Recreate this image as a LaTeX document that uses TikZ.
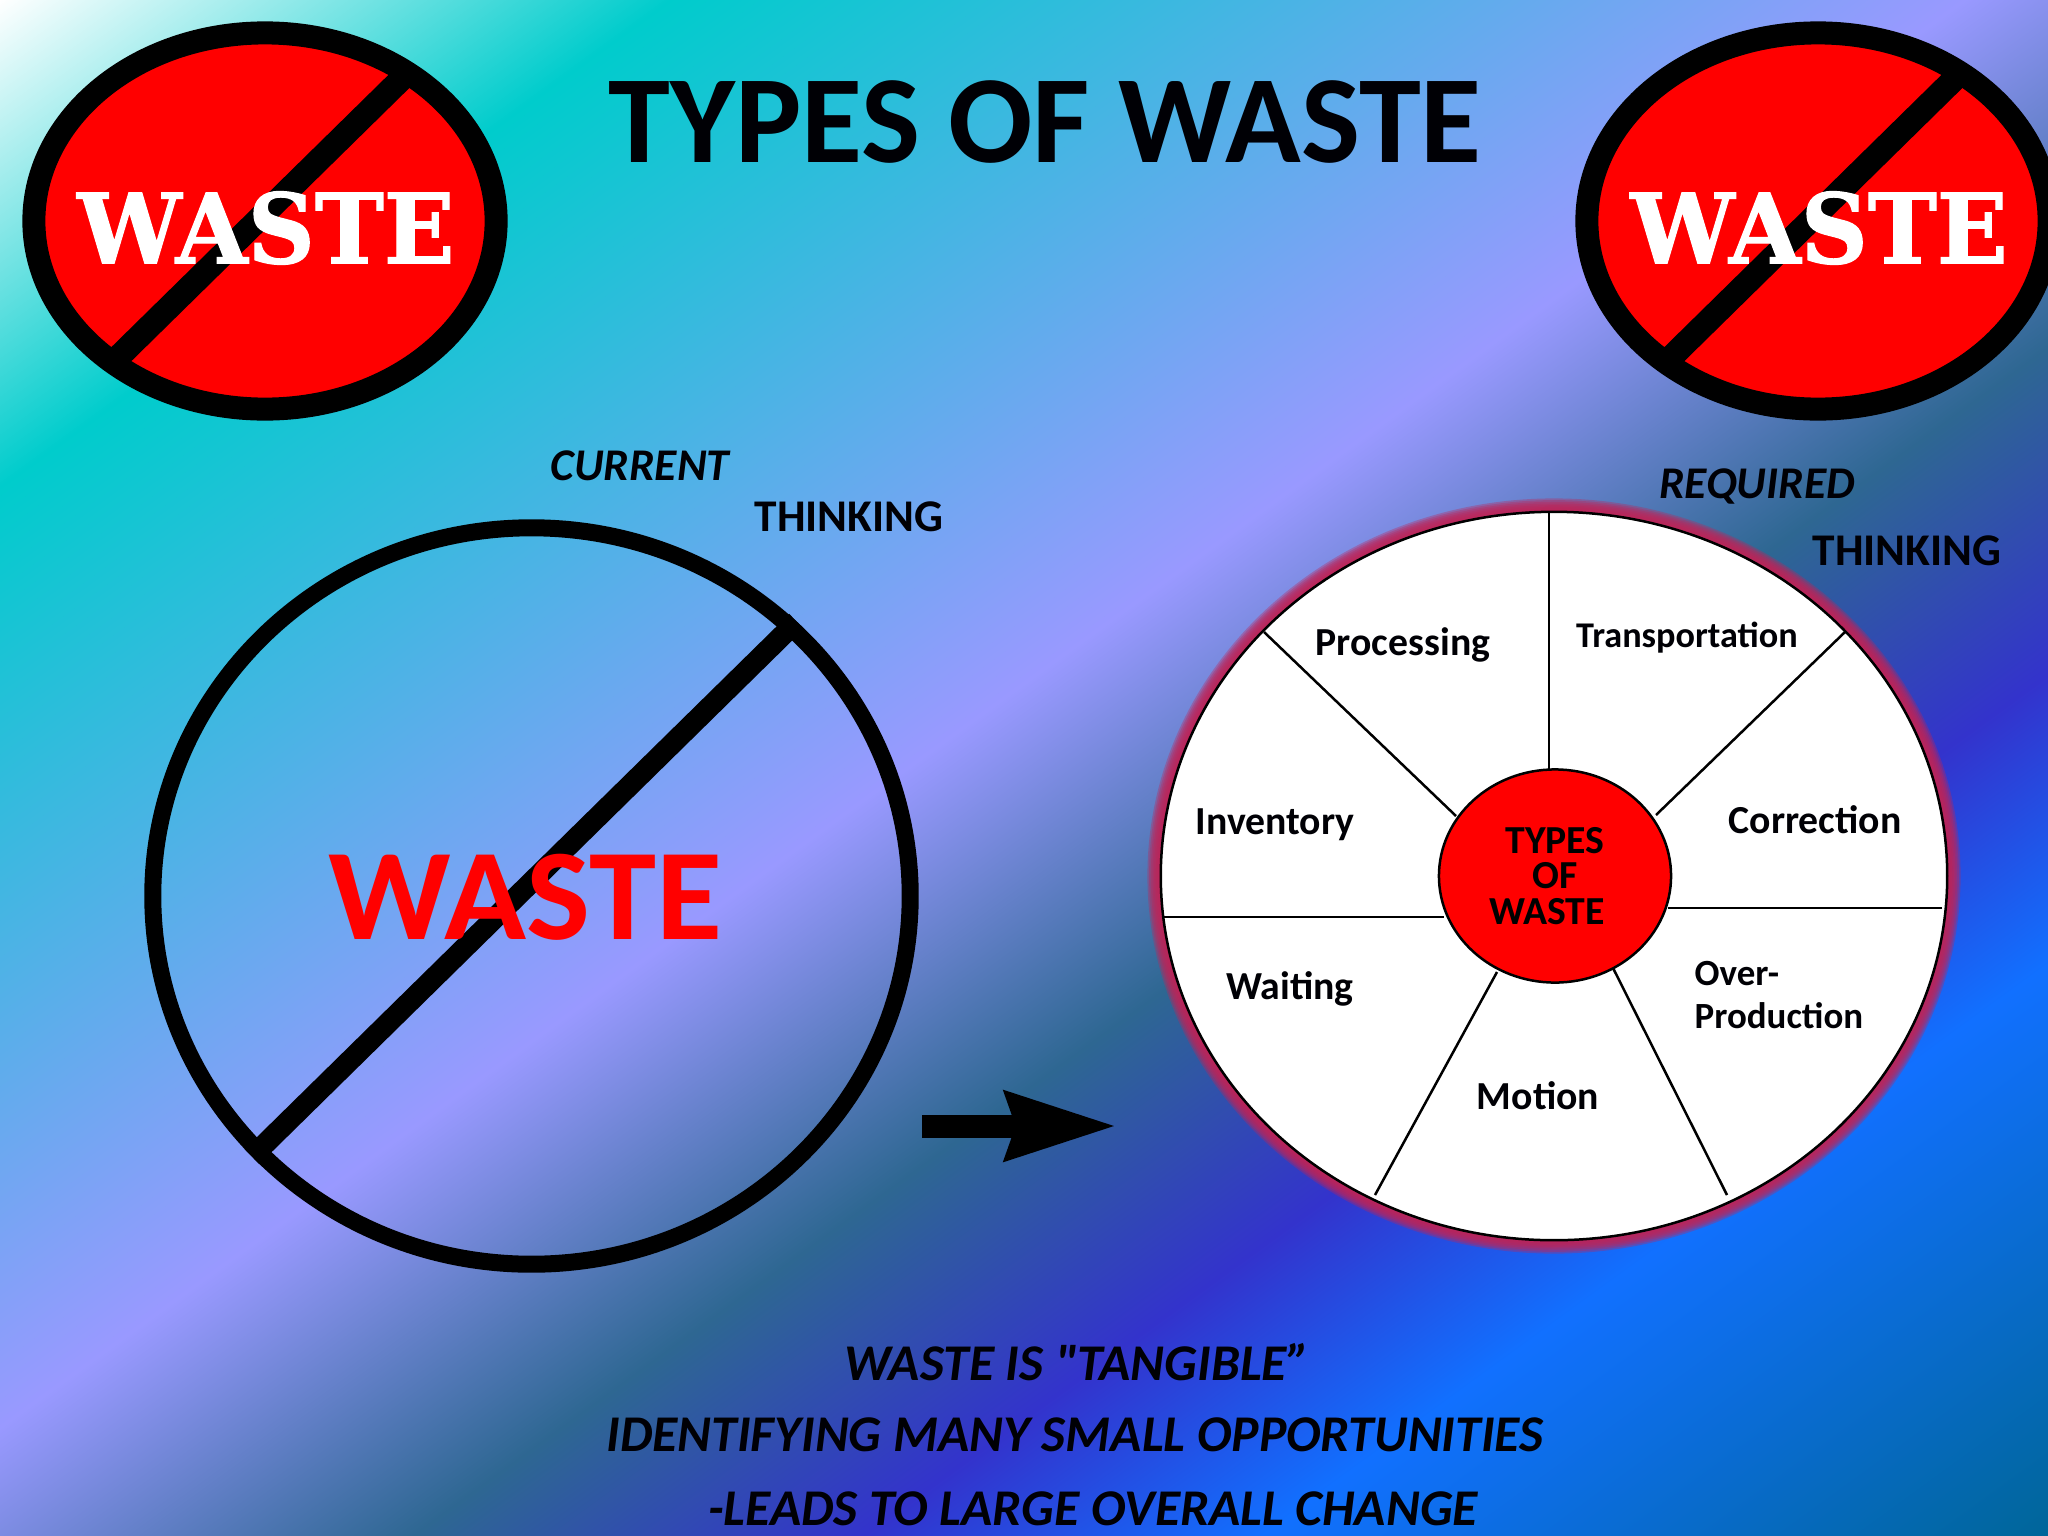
\documentclass[tikz,border=0pt]{standalone}
\usepackage{fontspec}
\usepackage{xcolor}
\usepackage{tikz}
\usetikzlibrary{shapes.geometric,arrows.meta}
\setmainfont{Carlito}
\newfontfamily\slabfont[BoldFeatures={FakeBold=1.2}]{DejaVu Serif}

\definecolor{peacockA}{HTML}{00CCCC}
\definecolor{peacockB}{HTML}{9999FF}
\definecolor{peacockC}{HTML}{2E6792}
\definecolor{peacockD}{HTML}{3333CC}
\definecolor{peacockE}{HTML}{1170FF}
\definecolor{peacockF}{HTML}{006699}
\definecolor{glow}{HTML}{BE2458}
\definecolor{ink}{HTML}{000005}
\pgfdeclarehorizontalshading{peacock}{100bp}{color(0bp)=(white);
    color(25bp)=(white); color(33.05bp)=(peacockA);
    color(48.6bp)=(peacockB); color(55.35bp)=(peacockC);
    color(60.75bp)=(peacockD); color(65.55bp)=(peacockE);
    color(75bp)=(peacockF); color(100bp)=(peacockF)}

\begin{document}
\begin{tikzpicture}[x=0.01cm, y=-0.01cm,
        sign/.style={ellipse, draw=black, fill=red, line width=0.23cm,
            minimum width=4.62cm, minimum height=3.76cm, inner sep=0pt},
        sign slash/.style={line width=0.24cm, shorten >=0.07cm, shorten <=0.07cm},
        sign text/.style={white, font=\slabfont\bfseries\fontsize{27.5}{30}\selectfont,
            xscale=0.96, transform shape, inner sep=0pt},
        thinking/.style={ink, font=\bfseries\fontsize{12.9}{15}\selectfont, inner sep=0pt},
        slogan/.style={ink, font=\bfseries\itshape\fontsize{14.65}{16}\selectfont, inner sep=0pt},
        wheel/.style={ellipse, draw=black, fill=white, line width=0.025cm,
            minimum width=7.86cm, minimum height=7.28cm, inner sep=0pt},
        hub/.style={ellipse, draw=black, fill=red, line width=0.025cm, align=center,
            minimum width=2.32cm, minimum height=2.13cm, inner sep=0pt,
            font=\bfseries\fontsize{11.3}{10}\selectfont},
        spoke/.style={black, line width=0.025cm},
        sector/.style={ink, font=\bfseries\fontsize{11.3}{13}\selectfont, inner sep=0pt}]

    \useasboundingbox (0,0) rectangle (2048,1536);
    \clip (0,0) rectangle (2048,1536);
    \shade[shading=peacock, transform canvas={shift={(1024,768)}, rotate=-54}]
        (-1223.5,-1500) rectangle (1223.5,1500);

    \node[ink, font=\bfseries\fontsize{35.5}{40}\selectfont, inner sep=0pt] (title) at (1045,122) {TYPES OF WASTE};

    % the two signs
    \node[sign] (signL) at (265,221) {};
    \node[sign] (signR) at (1818,221) {};
    \draw[sign slash] (signL.46) -- (signL.223);
    \draw[sign slash] (signR.46) -- (signR.223);
    \node[sign text] (wasteL) at (266,228) {WASTE};
    \node[sign text] (wasteR) at (1819,228) {WASTE};

    % current thinking
    \node[thinking, font=\bfseries\itshape\fontsize{12.9}{15}\selectfont] (current) at (640,466) {CURRENT};
    \node[thinking] (thinkL) at (849,517) {THINKING};
    \node[ellipse, draw=black, line width=0.17cm, minimum width=7.57cm, minimum height=7.36cm,
        inner sep=0pt] (bigring) at (531.5,896) {};
    \draw[line width=0.21cm] (bigring.46) -- (bigring.223);
    \node[red, font=\bfseries\fontsize{37}{40}\selectfont, xscale=1.04, transform shape,
        inner sep=0pt] (bigwaste) at (525,897) {WASTE};

    \coordinate (arrowstart) at (922,1126);
    \coordinate (arrowtip) at (1117,1126);
    \draw[line width=0.23cm, -{Stealth[length=1.1cm, width=0.66cm, inset=0.09cm]}] (arrowstart) -- (arrowtip);

    % required thinking
    \node[thinking, font=\bfseries\itshape\fontsize{12.9}{15}\selectfont] (required) at (1757,486) {REQUIRED};
    \node[thinking] (thinkR) at (1907,551) {THINKING};

    \foreach \g in {1,...,8}
        \fill[glow, opacity=0.35] (1554,876) ellipse [x radius={393+1.7*(9-\g)}, y radius={364+1.7*(9-\g)}];
    \node[wheel] (wheel) at (1554,876) {};

    \coordinate (a1) at (1549,512);  \coordinate (a2) at (1549,770);
    \coordinate (b1) at (1845,632);  \coordinate (b2) at (1656,815);
    \coordinate (c1) at (1942,908);  \coordinate (c2) at (1668,908);
    \coordinate (d1) at (1727,1195); \coordinate (d2) at (1613,968);
    \coordinate (e1) at (1375,1195); \coordinate (e2) at (1497,972);
    \coordinate (f1) at (1164,917);  \coordinate (f2) at (1444,917);
    \coordinate (g1) at (1264,632);  \coordinate (g2) at (1456,816);

    \path[spoke]
    (a1) edge (a2)
    (b1) edge (b2)
    (c1) edge (c2)
    (d1) edge (d2)
    (e1) edge (e2)
    (f1) edge (f2)
    (g1) edge (g2)
    ;

    \node[hub] (hub) at (1555,876) {TYPES\\OF\\WASTE\kern0.16cm};

    \node[sector] (processing) at (1403,645) {Processing};
    \node[sector, font=\bfseries\fontsize{10.3}{13}\selectfont] (transport) at (1687,638) {Transportation};
    \node[sector] (inventory) at (1275,825) {Inventory};
    \node[sector] (correction) at (1815,820) {Correction};
    \node[sector] (waiting) at (1290,989) {Waiting};
    \node[sector] (motion) at (1538,1096) {Motion};
    \node[sector, font=\bfseries\fontsize{10.5}{12.4}\selectfont, align=left] (overprod) at (1694,995) [anchor=west] {Over-\\Production};

    \node[slogan] (line1) at (1077,1362) {WASTE IS \XeTeXglyph\XeTeXcharglyph"22\relax TANGIBLE”};
    \node[slogan] (line2) at (1075,1435) {IDENTIFYING MANY SMALL OPPORTUNITIES};
    \node[slogan] (line3) at (1093,1509) {-LEADS TO LARGE OVERALL CHANGE};
\end{tikzpicture}
\end{document}
